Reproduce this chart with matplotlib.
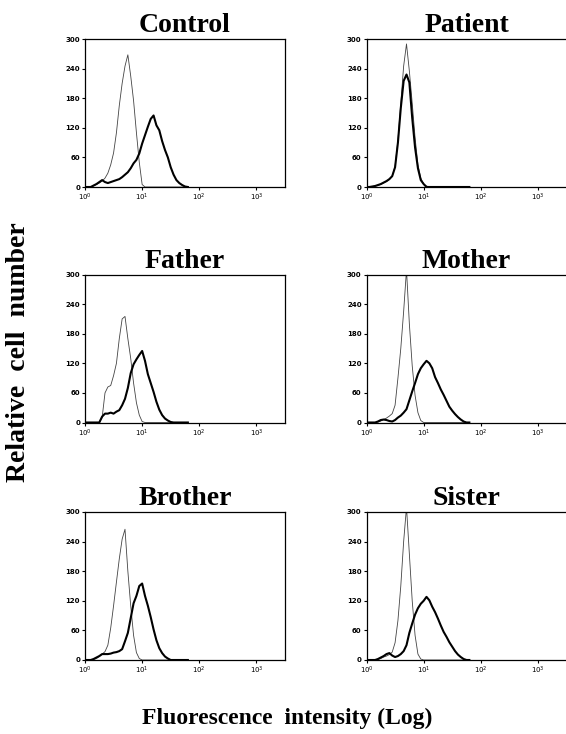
import matplotlib
matplotlib.use("Agg")
import matplotlib.pyplot as plt
import numpy as np

# channel positions in decades (log10 of fluorescence)
decades = [0.00, 0.05, 0.10, 0.15, 0.20, 0.25, 0.30, 0.35, 0.40, 0.45,
           0.50, 0.55, 0.60, 0.65, 0.70, 0.75, 0.80, 0.85, 0.90, 0.95,
           1.00, 1.05, 1.10, 1.15, 1.20, 1.25, 1.30, 1.35, 1.40, 1.45,
           1.50, 1.55, 1.60, 1.65, 1.70, 1.75, 1.80]

panels = ["Control", "Patient", "Father", "Mother", "Brother", "Sister"]

# thin line = negative control staining, thick line = specific staining
control_thin = [0, 0, 0, 2, 5, 8, 12, 18, 28, 45, 69, 110, 165, 210, 245, 268, 225, 175, 110, 50,
                5, 0, 0, 0, 0, 0, 0, 0, 0, 0, 0, 0, 0, 0, 0, 0, 0]
control_thick = [0, 0, 0, 3, 6, 10, 14, 10, 8, 10, 12, 14, 16, 20, 25, 30, 38, 48, 55, 68,
                 88, 105, 122, 138, 145, 125, 115, 93, 75, 60, 40, 25, 14, 8, 4, 1, 0]

patient_thin = [0, 0, 1, 2, 3, 5, 8, 11, 15, 22, 42, 95, 170, 245, 290, 235, 170, 100, 45, 18,
                6, 2, 0, 0, 0, 0, 0, 0, 0, 0, 0, 0, 0, 0, 0, 0, 0]
patient_thick = [0, 0, 1, 2, 4, 6, 9, 12, 16, 22, 40, 90, 160, 215, 228, 212, 140, 80, 38, 14,
                 6, 0, 0, 0, 0, 0, 0, 0, 0, 0, 0, 0, 0, 0, 0, 0, 0]

father_thin = [0, 0, 0, 0, 0, 0, 10, 60, 72, 75, 95, 120, 170, 210, 215, 170, 130, 80, 40, 15,
               2, 0, 0, 0, 0, 0, 0, 0, 0, 0, 0, 0, 0, 0, 0, 0, 0]
father_thick = [0, 0, 0, 0, 0, 0, 12, 18, 18, 20, 18, 22, 25, 35, 48, 70, 100, 118, 128, 137,
                145, 125, 98, 80, 62, 42, 26, 15, 8, 4, 1, 0, 0, 0, 0, 0, 0]

mother_thin = [0, 0, 0, 0, 1, 3, 6, 9, 13, 18, 35, 90, 150, 225, 310, 200, 115, 55, 20, 4,
               0, 0, 0, 0, 0, 0, 0, 0, 0, 0, 0, 0, 0, 0, 0, 0, 0]
mother_thick = [0, 0, 0, 0, 2, 5, 6, 5, 3, 2, 5, 10, 14, 20, 27, 45, 63, 80, 98, 110,
                118, 125, 120, 110, 92, 80, 67, 56, 44, 32, 24, 17, 11, 6, 2, 0, 0]

brother_thin = [0, 0, 0, 1, 3, 7, 12, 17, 30, 65, 110, 158, 205, 245, 265, 180, 110, 50, 15, 3,
                0, 0, 0, 0, 0, 0, 0, 0, 0, 0, 0, 0, 0, 0, 0, 0, 0]
brother_thick = [0, 0, 0, 2, 5, 8, 12, 12, 12, 13, 15, 16, 18, 22, 38, 55, 85, 115, 130, 150,
                 155, 130, 110, 87, 62, 40, 24, 14, 7, 3, 0, 0, 0, 0, 0, 0, 0]

sister_thin = [0, 0, 0, 0, 1, 3, 6, 8, 11, 16, 35, 80, 150, 240, 310, 215, 120, 50, 12, 2,
               0, 0, 0, 0, 0, 0, 0, 0, 0, 0, 0, 0, 0, 0, 0, 0, 0]
sister_thick = [0, 0, 0, 0, 2, 5, 8, 12, 14, 9, 6, 8, 12, 18, 30, 55, 74, 92, 105, 114,
                120, 128, 121, 108, 97, 84, 70, 57, 47, 36, 27, 18, 11, 6, 2, 0, 0]

thin_curves = [control_thin, patient_thin, father_thin, mother_thin, brother_thin, sister_thin]
thick_curves = [control_thick, patient_thick, father_thick, mother_thick, brother_thick, sister_thick]

y_ticks = [0, 60, 120, 180, 240, 300]
x_ticks = [1, 10, 100, 1000]
x_labels = [r"$10^0$", r"$10^1$", r"$10^2$", r"$10^3$"]

W, H = 566, 734
fig = plt.figure(figsize=(W / 100, H / 100), dpi=100)

# axes boxes in pixels: left, top, width, height
col_left = [85, 366.5]
row_top = [39, 274.5, 512]
ax_w, ax_h = 200, 148

fluor = 10 ** np.array(decades)

for i, name in enumerate(panels):
    r, c = divmod(i, 2)
    left = col_left[c] / W
    bottom = 1 - (row_top[r] + ax_h) / H
    ax = fig.add_axes([left, bottom, ax_w / W, ax_h / H])
    ax.plot(fluor, thin_curves[i], color="#444444", lw=0.6)
    ax.plot(fluor, thick_curves[i], color="black", lw=1.5)
    ax.set_xscale("log")
    ax.set_xlim(1, 10 ** 3.5)
    ax.set_ylim(0, 300)
    ax.set_yticks(y_ticks)
    ax.set_yticklabels([str(v) for v in y_ticks], fontsize=5, fontweight="bold")
    ax.set_xticks(x_ticks)
    ax.set_xticklabels(x_labels, fontsize=5)
    ax.xaxis.set_minor_locator(matplotlib.ticker.NullLocator())
    ax.tick_params(direction="out", length=2, width=0.8, pad=1.5)
    for s in ax.spines.values():
        s.set_linewidth(0.9)
    ax.set_title(name, fontsize=20, fontweight="bold", family="Liberation Serif", pad=5)

fig.text(19 / W, 1 - 352 / H, "Relative  cell  number", rotation=90, ha="center", va="center",
         fontsize=20, fontweight="bold", family="Liberation Serif")
fig.text(287 / W, 1 - 718 / H, "Fluorescence  intensity (Log)", ha="center", va="center",
         fontsize=17, fontweight="bold", family="Liberation Serif")

fig.savefig("out.png", dpi=100)
